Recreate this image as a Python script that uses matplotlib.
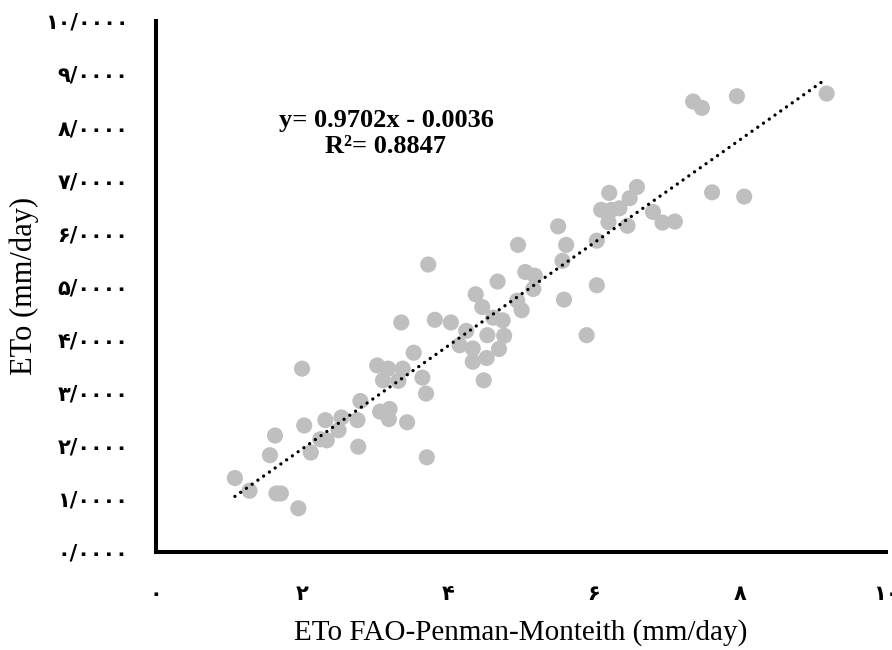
import numpy as np
import matplotlib
matplotlib.use("Agg")
import matplotlib.pyplot as plt

# ETo FAO-Penman-Monteith (x) vs. ETo estimated (y), mm/day
eto_fao = [1.08, 1.28, 1.56, 1.63, 1.65, 1.71, 1.95, 2.00, 2.03, 2.12,
           2.25, 2.34, 2.32, 2.50, 2.54, 2.76, 2.77, 2.80, 3.03, 3.18,
           3.38, 3.11, 3.32, 3.07, 3.20, 3.19, 3.44, 3.53, 3.65, 3.70,
           3.71, 3.73, 3.82, 4.04, 4.25, 4.16, 4.34, 4.34, 4.53, 4.49,
           4.38, 4.47, 4.54, 4.62, 4.75, 4.77, 4.70, 4.68, 4.95, 5.01,
           4.96, 5.06, 5.19, 5.17, 5.51, 5.62, 5.57, 5.59, 6.04, 6.04,
           5.90, 6.10, 6.24, 6.35, 6.20, 6.46, 6.21, 6.49, 6.59, 6.81,
           6.94, 7.11, 7.62, 8.06, 7.36, 7.48, 7.96, 9.19, 3.36]
eto_est = [1.39, 1.15, 1.82, 2.19, 1.10, 1.10, 0.82, 3.45, 2.38, 1.87,
           2.12, 2.10, 2.48, 2.29, 2.53, 2.48, 1.98, 2.84, 3.51, 3.45,
           3.45, 3.23, 3.22, 2.64, 2.69, 2.50, 2.44, 3.75, 3.28, 2.98,
           1.78, 5.41, 4.37, 4.32, 4.16, 3.89, 3.83, 3.58, 3.65, 3.23,
           4.85, 4.61, 4.08, 4.41, 4.36, 4.07, 3.82, 5.09, 4.73, 4.55,
           5.78, 5.27, 5.20, 4.95, 6.13, 5.78, 5.48, 4.75, 5.86, 5.02,
           4.08, 6.44, 6.44, 6.47, 6.21, 6.14, 6.76, 6.66, 6.87, 6.40,
           6.20, 6.22, 6.77, 6.69, 8.48, 8.36, 8.58, 8.63, 4.32]

slope = 0.9702
intercept = -0.0036
r2 = 0.8847

fa = "\u06f0\u06f1\u06f2\u06f3\u06f4\u06f5\u06f6\u06f7\u06f8\u06f9"
def to_fa(s):
    return "".join(fa[int(c)] if c.isdigit() else c for c in s)

yticks = list(range(0, 11))
xticks = list(range(0, 11, 2))
ytick_labels = [to_fa("%d/0000" % v) for v in yticks]
xtick_labels = [to_fa(str(v)) for v in xticks]

fig = plt.figure(figsize=(8.92, 6.5), dpi=100)
ax = fig.add_axes([0.175, 0.151, 0.818, 0.817])

ax.scatter(eto_fao, eto_est, s=135, color="#bfbfbf", edgecolors="none", zorder=2)

# trendline over the data range
xs = np.array([min(eto_fao), max(eto_fao)])
ax.plot(xs, slope * xs + intercept, color="black", lw=2.4,
        linestyle=(0, (0.01, 2.1)), dash_capstyle="round", zorder=3)

ax.text(3.15, 7.88, "y= %.4fx - %.4f\nR\u00b2= %.4f" % (slope, abs(intercept), r2),
        ha="center", va="center", fontsize=19, fontweight="bold",
        family="Liberation Serif", linespacing=1.2)

ax.set_xlim(0, 10)
ax.set_ylim(0, 10)
ax.set_xticks(xticks)
ax.set_xticklabels(xtick_labels, fontsize=15, fontweight="bold", family="DejaVu Sans")
ax.set_yticks(yticks)
ax.set_yticklabels(ytick_labels, fontsize=15, fontweight="bold", family="DejaVu Sans")
ax.tick_params(length=0)
ax.tick_params(axis="x", pad=23)
ax.tick_params(axis="y", pad=20)

for s in ["top", "right"]:
    ax.spines[s].set_visible(False)
for s in ["left", "bottom"]:
    ax.spines[s].set_linewidth(2.9)

ax.set_xlabel("ETo FAO-Penman-Monteith (mm/day)", fontsize=21, family="Liberation Serif", labelpad=11)
ax.set_ylabel("ETo (mm/day)", fontsize=22, family="Liberation Serif", labelpad=4)

fig.savefig("out.png", dpi=100)
